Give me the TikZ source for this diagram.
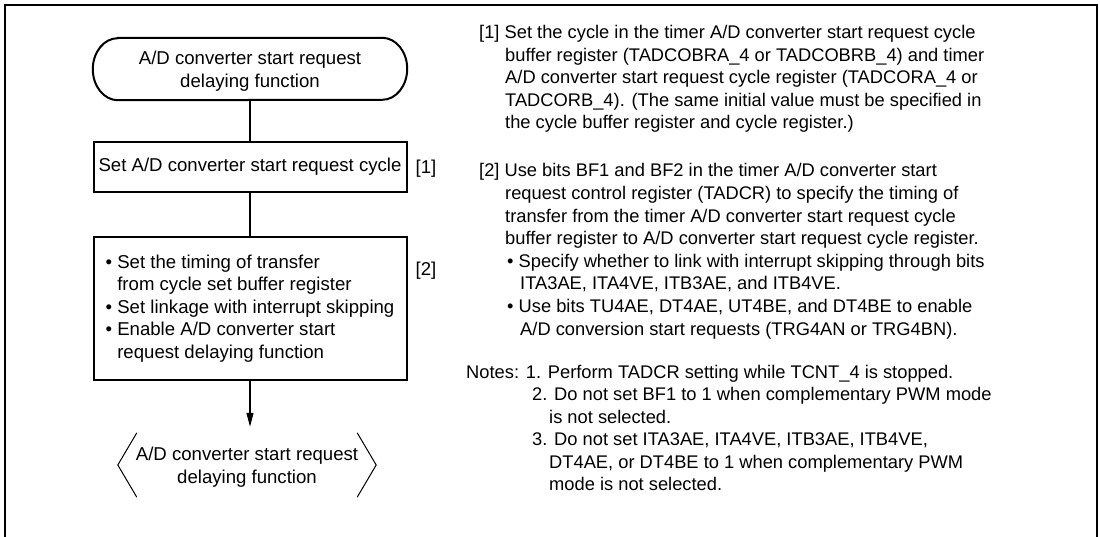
\documentclass[tikz,border=0pt]{standalone}
\usepackage{fontspec}
\setmainfont{Liberation Sans}
\usetikzlibrary{arrows.meta}
\begin{document}
\begin{tikzpicture}[x=1pt,y=1pt,
  lt/.style={font=\fontsize{18.6}{22.5}\selectfont},
  rt/.style={font=\fontsize{18.3}{22.4}\selectfont, anchor=base west, inner sep=0pt},
  boxst/.style={draw, line width=2pt, inner sep=0pt, lt},
  conn/.style={line width=1.2pt},
]
\useasboundingbox (0,-537) rectangle (1100,0);
\fill[white] (0,-537) rectangle (1100,0);
\draw[line width=2.5pt, line join=miter] (5,-545) -- (5,-5) -- (1097,-5) -- (1097,-545);

% flowchart
\node[lt, align=center, minimum width=314pt, minimum height=62pt, inner sep=0pt] (start) at (250,-71)
  {A/D converter start request\\delaying function};
\draw[line width=2pt] ([xshift=25pt,yshift=2pt]start.north west) -- ([xshift=-25pt,yshift=2pt]start.north east)
  arc[start angle=90, end angle=-90, x radius=25pt, y radius=31pt]
  -- ([xshift=25pt,yshift=2pt]start.south west)
  arc[start angle=270, end angle=90, x radius=25pt, y radius=31pt] -- cycle;

\node[boxst, minimum width=313pt, minimum height=50pt] (cyc) at (250,-167)
  {Set A/D converter start request cycle};
\node[boxst, align=left, minimum width=313pt, minimum height=143pt] (cfg) at (250,-308.5)
  {• Set the timing of transfer\\\phantom{• }from cycle set buffer register\\• Set linkage with interrupt skipping\\• Enable A/D converter start\\\phantom{• }request delaying function};

\node[lt] (l1) at (426,-169) {[1]};
\node[lt] (l2) at (426,-271) {[2]};

\node[lt, align=center, minimum width=258pt, minimum height=64pt, inner sep=0pt] (fin) at (247,-467)
  {A/D converter start request\\delaying function};
\draw[line width=1pt] ([xshift=19pt,yshift=2pt]fin.north west) -- ([yshift=2pt]fin.west) -- ([xshift=19pt,yshift=2pt]fin.south west);
\draw[line width=1pt] ([xshift=-19pt,yshift=2pt]fin.north east) -- ([yshift=2pt]fin.east) -- ([xshift=-19pt,yshift=2pt]fin.south east);

\draw[conn] ([yshift=2pt]start.south) -- (cyc.north);
\draw[conn] (cyc) -- (cfg);
\draw[conn, -{Triangle[length=14pt,width=7pt]}, shorten >=8pt] (cfg.south) -- (cfg.south |- fin.north);

% right-hand text
\node[rt] (a1) at (479,-39) {[1] Set the cycle in the timer A/D converter start request cycle};
\node[rt] (a2) at (505,-61.4) {buffer register (TADCOBRA\_4 or TADCOBRB\_4) and timer};
\node[rt] (a3) at (505,-83.8) {A/D converter start request cycle register (TADCORA\_4 or};
\node[rt] (a4) at (505,-106.2) {TADCORB\_4). (The same initial value must be specified in};
\node[rt] (a5) at (505,-128.6) {the cycle buffer register and cycle register.)};

\node[rt] (b1) at (479,-177) {[2] Use bits BF1 and BF2 in the timer A/D converter start};
\node[rt] (b2) at (505,-199.6) {request control register (TADCR) to specify the timing of};
\node[rt] (b3) at (505,-222.2) {transfer from the timer A/D converter start request cycle};
\node[rt] (b4) at (505,-244.8) {buffer register to A/D converter start request cycle register.};
\node[rt] (b5) at (507,-267.4) {• Specify whether to link with interrupt skipping through bits};
\node[rt] (b6) at (520,-290) {ITA3AE, ITA4VE, ITB3AE, and ITB4VE.};
\node[rt] (b7) at (507,-312.6) {• Use bits TU4AE, DT4AE, UT4BE, and DT4BE to enable};
\node[rt] (b8) at (520,-335.2) {A/D conversion start requests (TRG4AN or TRG4BN).};

\node[rt] (n1) at (466,-378.4) {Notes: 1. Perform TADCR setting while TCNT\_4 is stopped.};
\node[rt] (n2) at (532,-400.8) {2. Do not set BF1 to 1 when complementary PWM mode};
\node[rt] (n3) at (549,-423.2) {is not selected.};
\node[rt] (n4) at (532,-445.6) {3. Do not set ITA3AE, ITA4VE, ITB3AE, ITB4VE,};
\node[rt] (n5) at (549,-468) {DT4AE, or DT4BE to 1 when complementary PWM};
\node[rt] (n6) at (549,-490.4) {mode is not selected.};
\end{tikzpicture}
\end{document}
